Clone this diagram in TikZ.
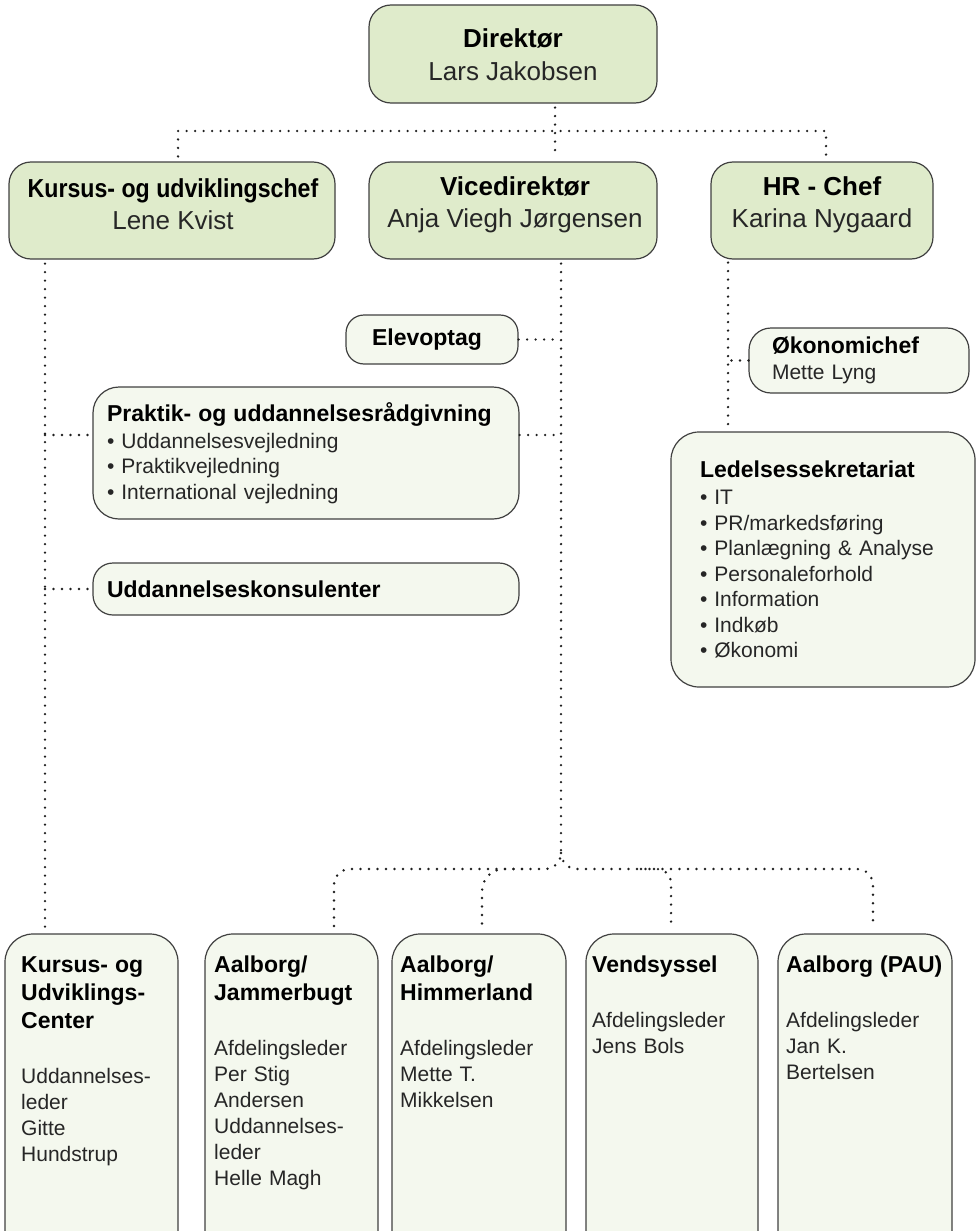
\documentclass[tikz,border=0pt]{standalone}
\usepackage{fontspec}
\setmainfont{Liberation Sans}
\usepackage{graphicx}
\usetikzlibrary{calc}
\definecolor{topfill}{HTML}{DFEBCB}
\definecolor{lowfill}{HTML}{F4F8EE}
\definecolor{edgec}{HTML}{404040}
\definecolor{dotc}{HTML}{1E1E1E}
\definecolor{txtc}{HTML}{262626}
\newcommand\mytitle[1]{{\fontsize{23}{28}\selectfont\bfseries\color{black}#1}}
\newcommand\mybig[1]{{\bfseries\color{black}#1}}
\begin{document}
\begin{tikzpicture}[x=1pt,y=-1pt,
 box/.style={draw=edgec,line width=1.2pt,inner sep=0pt},
 topbox/.style={box,fill=topfill,rounded corners=22pt},
 lowbox/.style={box,fill=lowfill},
 conn/.style={draw=dotc,line width=2.7pt,dash pattern=on 0pt off 8.5pt,line cap=round},
 bigtxt/.style={font=\fontsize{26}{32}\selectfont,align=center,text=txtc,inner sep=0pt},
 midtxt/.style={font=\fontsize{21}{25.5}\selectfont,align=left,text=txtc},
 bottxt/.style={font=\fontsize{21}{26}\selectfont,align=left,text=txtc,inner sep=0pt,anchor=north west,text width=170pt},
]
\useasboundingbox (0,0) rectangle (979,1231);
\clip (0,0) rectangle (979,1231);

% level 1
\node[topbox,minimum width=288pt,minimum height=98pt] (dir) at (513,54) {};
\node[bigtxt,font=\fontsize{26}{33}\selectfont] (dirT) at (513,54.5) {\mybig{Direktør}\\Lars Jakobsen};

% level 2
\node[topbox,minimum width=326pt,minimum height=97pt] (kur) at (172,210.5) {};
\node[bigtxt] (kurT) at (173,204.5) {\scalebox{0.89}[1]{\mybig{Kursus- og udviklingschef}}\\Lene Kvist};
\node[topbox,minimum width=288pt,minimum height=97pt] (vice) at (513,210.5) {};
\node[bigtxt] (viceT) at (515,204.5) {\mybig{Vicedirektør}\\Anja Viegh Jørgensen};
\node[topbox,minimum width=222pt,minimum height=97pt] (hr) at (822,210.5) {};
\node[bigtxt] (hrT) at (822,204.5) {\mybig{HR - Chef}\\Karina Nygaard};

% middle boxes
\node[lowbox,rounded corners=18pt,minimum width=172pt,minimum height=49pt] (elev) at (432,339.5) {};
\node[font=\fontsize{23}{28}\selectfont\bfseries,inner sep=0pt] (elevT) at (427,339.5) {Elevoptag};
\node[lowbox,rounded corners=26pt,midtxt,text width=398pt,inner xsep=14pt,minimum height=132pt] (prak) at (306,453)
 {\mytitle{Praktik- og uddannelsesrådgivning}\\[1.5pt]• Uddannelsesvejledning\\• Praktikvejledning\\• International vejledning};
\node[lowbox,rounded corners=20pt,midtxt,text width=398pt,inner xsep=14pt,minimum height=52pt] (udd) at (306,589) {\mytitle{Uddannelseskonsulenter}};
\node[lowbox,rounded corners=22pt,midtxt,text width=174pt,inner xsep=23pt,minimum height=65pt] (oko) at (859,360.5) {\mytitle{Økonomichef}\\[1pt]Mette Lyng};
\node[lowbox,rounded corners=28pt,midtxt,text width=246pt,inner xsep=29pt,minimum height=255pt] (led) at (823,559.5)
 {\mytitle{Ledelsessekretariat}\\[1.5pt]• IT\\• PR/markedsføring\\• Planlægning \& Analyse\\• Personaleforhold\\• Information\\• Indkøb\\• Økonomi};

% bottom boxes
\node[lowbox,rounded corners=28pt,minimum width=173pt,minimum height=336pt] (b1) at (91.5,1102) {};
\node[lowbox,rounded corners=28pt,minimum width=173pt,minimum height=336pt] (b2) at (291.5,1102) {};
\node[lowbox,rounded corners=28pt,minimum width=174pt,minimum height=336pt] (b3) at (479,1102) {};
\node[lowbox,rounded corners=28pt,minimum width=172pt,minimum height=336pt] (b4) at (672,1102) {};
\node[lowbox,rounded corners=28pt,minimum width=174pt,minimum height=336pt] (b5) at (865,1102) {};

\node[bottxt] (b1T) at (21,956) {\mytitle{Kursus- og}\\[2pt]\mytitle{Udviklings-}\\[2pt]\mytitle{Center}\\[29pt]Uddannelses-\\leder\\Gitte\\Hundstrup};
\node[bottxt] (b2T) at (214,956) {\mytitle{Aalborg/}\\[2pt]\mytitle{Jammerbugt}\\[29pt]Afdelingsleder\\Per Stig\\Andersen\\Uddannelses-\\leder\\Helle Magh};
\node[bottxt] (b3T) at (400,956) {\mytitle{Aalborg/}\\[2pt]\mytitle{Himmerland}\\[29pt]Afdelingsleder\\Mette T.\\Mikkelsen};
\node[bottxt] (b4T) at (592,956) {\mytitle{Vendsyssel}\\[29pt]Afdelingsleder\\Jens Bols};
\node[bottxt] (b5T) at (786,956) {\mytitle{Aalborg (PAU)}\\[29pt]Afdelingsleder\\Jan K.\\Bertelsen};

% connectors
\coordinate (j0) at (555,131);
\coordinate (jl) at (178,131);
\coordinate (jr) at (826,131);
\draw[conn] ($(dir.south -| j0)+(0,4)$) -- (j0) -- ($(vice.north -| j0)+(0,-5)$);
\draw[conn] ($(kur.north -| jl)+(0,-5)$) -- (jl) -- (jr) -- ($(hr.north -| jr)+(0,-5)$);

\coordinate (kx) at (45,0);
\coordinate (pk) at (0,435);
\draw[conn] ($(kur.south -| kx)+(0,4)$) -- ($(b1.north -| kx)+(0,-5)$);
\draw[conn] (kx |- pk) -- (prak.west |- pk);
\draw[conn] (kx |- udd.west) -- (udd.west);

\coordinate (vx) at (561,0);
\coordinate (hub) at (561,869);
\coordinate (x2) at (334,0);
\coordinate (x3) at (482,0);
\coordinate (x4) at (671,0);
\coordinate (x5) at (873,0);
\draw[conn] (elev.east) -- (elev.east -| vx);
\draw[conn] (prak.east |- pk) -- (vx |- pk);
\draw[conn,rounded corners=16pt] ($(vice.south -| vx)+(0,4)$) -- (hub) -- (hub -| x2) -- ($(b2.north -| x2)+(0,-5)$);
\draw[conn,rounded corners=16pt] ($(hub)+(0,-16)$) -- (hub) -- (hub -| x5) -- ($(b5.north -| x5)+(0,-5)$);
\draw[conn,rounded corners=22pt] ($(hub -| x3)+(40,0)$) -- (hub -| x3) -- ($(b3.north -| x3)+(0,-5)$);
\draw[conn,rounded corners=14pt] ($(hub -| x4)+(-30,0)$) -- (hub -| x4) -- ($(b4.north -| x4)+(0,-5)$);

\coordinate (hx) at (728,0);
\draw[conn] ($(hr.south -| hx)+(0,3)$) -- ($(led.north -| hx)+(0,-3)$);
\draw[conn] (oko.west) -- (oko.west -| hx);
\end{tikzpicture}
\end{document}
